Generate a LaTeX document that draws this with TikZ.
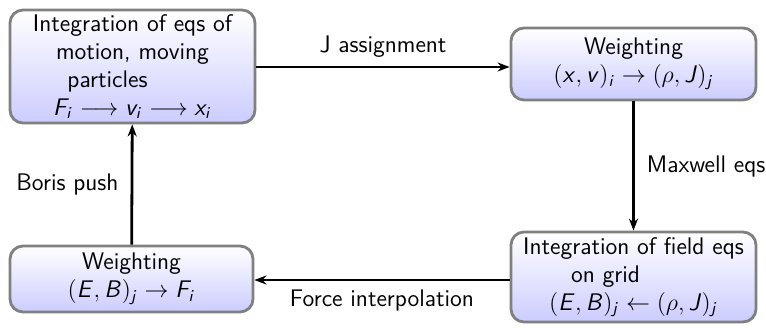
\documentclass[tikz,border=0pt]{standalone}
\usetikzlibrary{arrows.meta}
\DeclareSymbolFont{sfit}{OT1}{cmss}{m}{sl}
\DeclareMathSymbol{E}{\mathalpha}{sfit}{`E}
\DeclareMathSymbol{B}{\mathalpha}{sfit}{`B}
\DeclareMathSymbol{F}{\mathalpha}{sfit}{`F}
\DeclareMathSymbol{J}{\mathalpha}{sfit}{`J}
\DeclareMathSymbol{i}{\mathalpha}{sfit}{`i}
\DeclareMathSymbol{j}{\mathalpha}{sfit}{`j}
\DeclareMathSymbol{v}{\mathalpha}{sfit}{`v}
\DeclareMathSymbol{x}{\mathalpha}{sfit}{`x}
\begin{document}
\begin{tikzpicture}[x=0.5pt,y=-0.5pt,
  every node/.style={font=\fontsize{12}{14}\selectfont\sffamily},
  box/.style={draw=black!50, line width=1.4pt, rounded corners=6.5pt,
    top color=white, bottom color=blue!20, align=center, inner sep=0pt},
  conn/.style={line width=1.4pt, -{Stealth[length=6pt,width=4.5pt]}},
  lbl/.style={inner sep=1pt}]
\useasboundingbox (0,0) rectangle (766,327);
\node[box, minimum width=122.5pt, minimum height=56.5pt] (b1) at (132.5,66.5)
  {Integration of eqs of\\ motion, moving\\ particles\rule{25pt}{0pt}\\ $F_i \longrightarrow v_i \longrightarrow x_i$};
\node[box, minimum width=122.5pt, minimum height=36pt] (b2) at (633.5,64)
  {Weighting\\ $(x,v)_i \rightarrow (\rho,J)_j$};
\node[box, minimum width=121.5pt, minimum height=33pt] (b3) at (131.5,279)
  {Weighting\\ $(E,B)_j \rightarrow F_i$};
\node[box, minimum width=122.5pt, minimum height=45pt] (b4) at (633.5,277)
  {Integration of field eqs\\ on grid\rule{28pt}{0pt}\\ $(E,B)_j \leftarrow (\rho,J)_j$};
\draw[conn] (b1.east |- 0,67) -- (b2.west |- 0,67)
  node[lbl, midway, above=3pt] (l1) {J assignment};
\draw[conn] (b2) -- (b4) node[lbl, midway, right=5pt] (l2) {Maxwell eqs};
\draw[conn] (b4.west |- 0,280) -- (b3.east |- 0,280)
  node[lbl, midway, below=3pt] (l3) {Force interpolation};
\draw[conn] (b3) -- (b1) node[lbl, midway, left=5pt] (l4) {Boris push};
\end{tikzpicture}
\end{document}
